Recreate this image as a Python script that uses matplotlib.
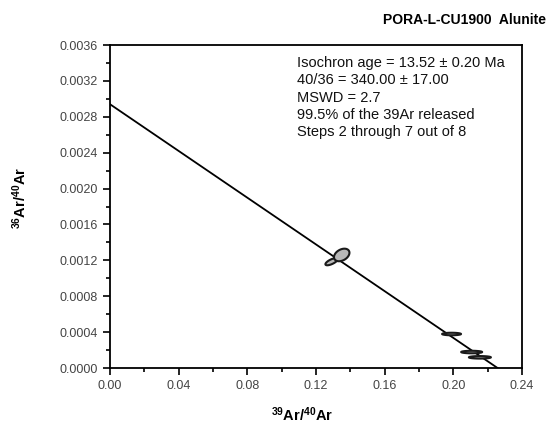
import numpy as np
import matplotlib
matplotlib.use("Agg")
import matplotlib.pyplot as plt
from matplotlib.ticker import MultipleLocator, FormatStrFormatter

plt.rcParams['font.family'] = ['Liberation Sans', 'DejaVu Sans']
plt.rcParams['mathtext.fontset'] = 'custom'
plt.rcParams['mathtext.rm'] = 'Liberation Sans'
plt.rcParams['mathtext.bf'] = 'Liberation Sans:bold'

# Data: steps (39Ar/40Ar, 36Ar/40Ar) with 1-sigma errors and correlation
step_x = [0.1291, 0.1350, 0.1990, 0.2107, 0.2155]
step_y = [0.001185, 0.00126, 0.000379, 0.000178, 0.000119]
step_sx = [0.0036, 0.0045, 0.0055, 0.0061, 0.0064]
step_sy = [0.000040, 0.000070, 0.000014, 0.000014, 0.000014]
step_rho = [0.7, 0.35, 0.0, 0.0, 0.0]

# Isochron line: intercepts
y_intercept = 0.00294
x_intercept = 0.2258

title = "PORA-L-CU1900  Alunite"
info_lines = ["Isochron age = 13.52 \u00b1 0.20 Ma",
              "40/36 = 340.00 \u00b1 17.00",
              "MSWD = 2.7",
              "99.5% of the 39Ar released",
              "Steps 2 through 7 out of 8"]

fig = plt.figure(figsize=(5.5, 4.23), dpi=100)
ax = fig.add_axes([0.2, 0.130, 0.749, 0.7636])

ax.plot([0, x_intercept], [y_intercept, 0], color='black', lw=1.3, zorder=2)

t = np.linspace(0, 2 * np.pi, 200)
for cx, cy, sx, sy, r in zip(step_x, step_y, step_sx, step_sy, step_rho):
    ex = cx + sx * np.cos(t)
    ey = cy + sy * (r * np.cos(t) + np.sqrt(1 - r * r) * np.sin(t))
    ax.fill(ex, ey, facecolor='#b8b8b8', edgecolor='#1a1a1a', lw=1.5, zorder=3)

ax.set_xlim(0, 0.24)
ax.set_ylim(0, 0.0036)
ax.xaxis.set_major_locator(MultipleLocator(0.04))
ax.xaxis.set_minor_locator(MultipleLocator(0.02))
ax.yaxis.set_major_locator(MultipleLocator(0.0004))
ax.yaxis.set_minor_locator(MultipleLocator(0.0002))
ax.xaxis.set_major_formatter(FormatStrFormatter('%.2f'))
ax.yaxis.set_major_formatter(FormatStrFormatter('%.4f'))
ax.tick_params(which='both', direction='out', labelsize=9, labelcolor='#444444', width=1.2)
ax.tick_params(which='major', length=5)
ax.tick_params(which='minor', length=3)
for s in ax.spines.values():
    s.set_linewidth(1.3)

ax.set_xlabel(r'$\mathbf{^{39}Ar/^{40}Ar}$', fontsize=10.5)
ax.set_ylabel(r'$\mathbf{^{36}Ar/^{40}Ar}$', fontsize=10.5)
ax.xaxis.set_label_coords(0.466, -0.115)
ax.yaxis.set_label_coords(-0.197, 0.526)

fig.text(0.993, 0.953, title, ha='right', va='center', fontsize=10, fontweight='bold')

ax.text(0.455, 0.966, "\n".join(info_lines), transform=ax.transAxes, ha='left', va='top',
        fontsize=10.5, linespacing=1.3, color='#111111')

fig.savefig('out.png', dpi=100)
